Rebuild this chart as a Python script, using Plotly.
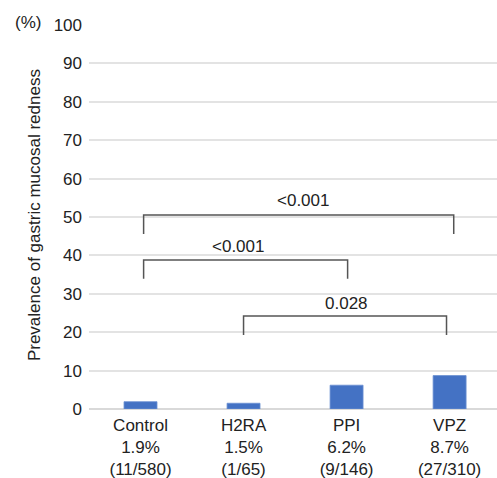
import plotly.graph_objects as go

categories = ["Control", "H2RA", "PPI", "VPZ"]
prevalence = [1.9, 1.5, 6.2, 8.7]
counts = ["(11/580)", "(1/65)", "(9/146)", "(27/310)"]
pct_labels = ["1.9%", "1.5%", "6.2%", "8.7%"]

# comparison brackets
comp_left = [0.03, 0.03, 1.0]
comp_right = [3.04, 2.01, 2.97]
comp_top = [50.5, 38.8, 24.2]
comp_bottom = [45.6, 33.9, 19.3]
comp_label = ["<0.001", "<0.001", "0.028"]
comp_label_y = [54.4, 42.2, 27.6]
comp_label_x = [1.58, 0.95, 2.0]

yticks = list(range(0, 101, 10))

FONT = "Liberation Sans, Arial, Helvetica, sans-serif"

fig = go.Figure()
fig.add_trace(go.Bar(
    x=list(range(len(categories))),
    y=prevalence,
    width=0.32,
    marker=dict(color="#4472C4", line=dict(color="#6a8fd2", width=0.8)),
    hoverinfo="skip",
))

for l, r, t, b in zip(comp_left, comp_right, comp_top, comp_bottom):
    fig.add_trace(go.Scatter(
        x=[l, l, r, r], y=[b, t, t, b], mode="lines",
        line=dict(color="#555555", width=1.5), hoverinfo="skip",
    ))

annotations = []
for lx, ly, lab in zip(comp_label_x, comp_label_y, comp_label):
    annotations.append(dict(x=lx, y=ly, xref="x", yref="y", text=lab, showarrow=False,
                            font=dict(size=17, color="#222222", family=FONT)))
annotations.append(dict(x=-55 / 408, y=50.5, xref="paper", yref="y", xanchor="center",
                        yanchor="middle",
                        text="Prevalence of gastric mucosal redness", textangle=-90,
                        showarrow=False, font=dict(size=17, color="#222222", family=FONT)))
annotations.append(dict(x=-61 / 408, y=100, xref="paper", yref="y", xanchor="center",
                        text="(%)", showarrow=False, yshift=3,
                        font=dict(size=17, color="#222222", family=FONT)))

ticktext = [f"{c}<br>{p}<br>{n}" for c, p, n in zip(categories, pct_labels, counts)]

fig.update_layout(
    width=497, height=478,
    margin=dict(l=89, r=0, t=25, b=69),
    paper_bgcolor="white", plot_bgcolor="white",
    showlegend=False,
    font=dict(family=FONT, size=17, color="#222222"),
    annotations=annotations,
    xaxis=dict(range=[-0.5, 3.46], tickmode="array", automargin=False,
               tickvals=list(range(len(categories))), ticktext=ticktext,
               showgrid=False, zeroline=False, showline=False, ticks="",
               ticklabelstandoff=4,
               tickfont=dict(size=17, family=FONT, color="#222222")),
    yaxis=dict(range=[0, 100], tickmode="array", tickvals=yticks, automargin=False,
               showgrid=True, gridcolor="#e3e3e3", gridwidth=1.5,
               zeroline=True, zerolinecolor="#d9d9d9", zerolinewidth=1.5,
               showline=False, ticks="", ticklabelstandoff=6,
               tickfont=dict(size=17, family=FONT, color="#222222")),
)

fig.write_html("out.html", config={"displayModeBar": False},
               post_script="document.body.style.margin='0';document.body.style.overflow='hidden';")
